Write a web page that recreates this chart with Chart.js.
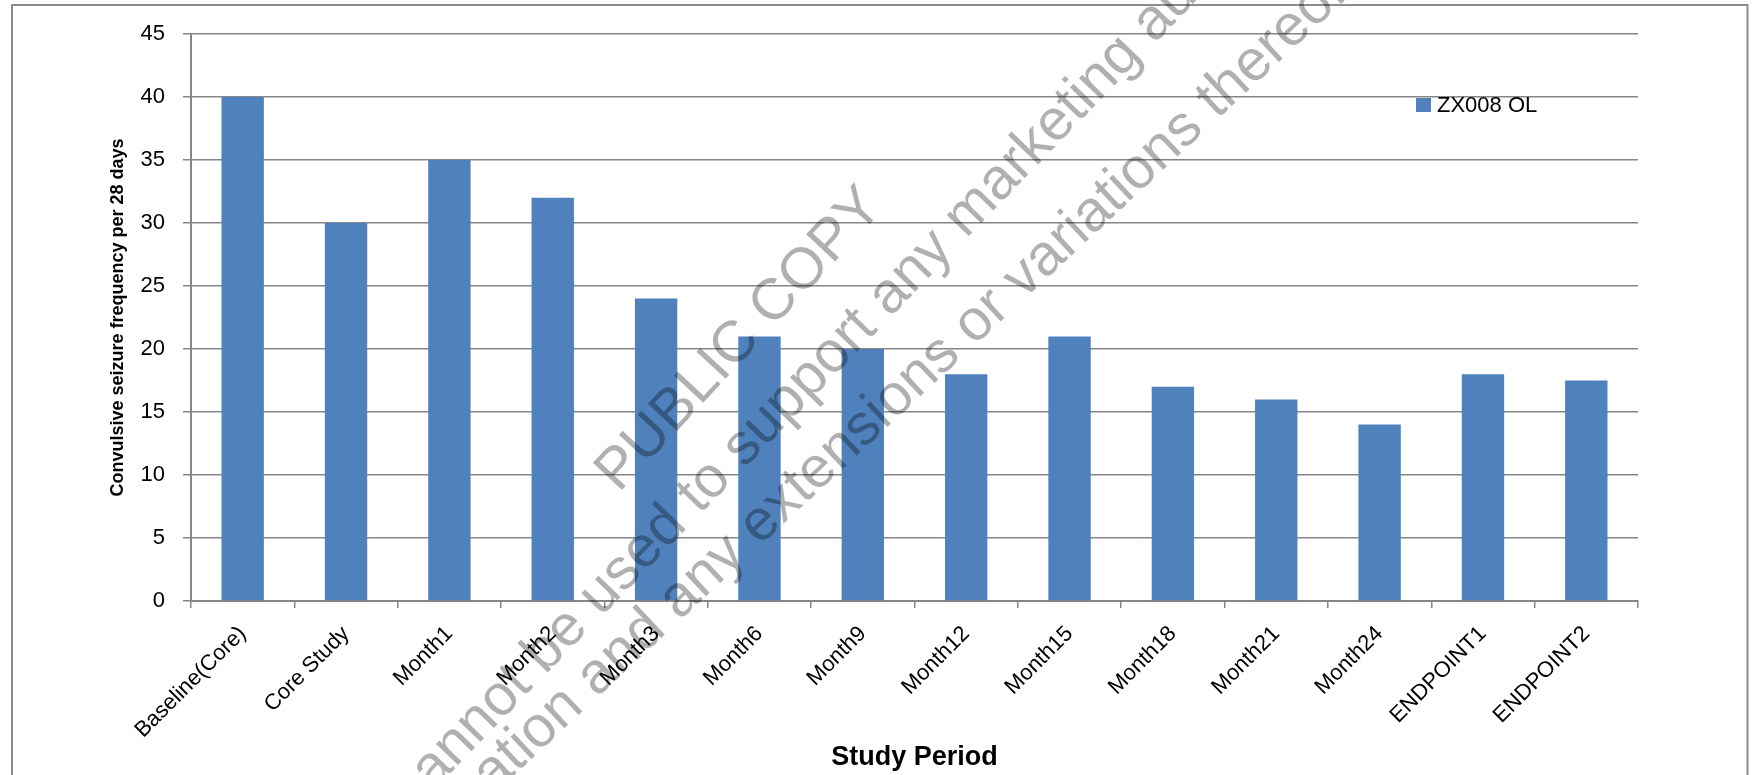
<!DOCTYPE html>
<html>
<head>
<meta charset="utf-8">
<script src="https://cdn.jsdelivr.net/npm/chart.js@4.4.1/dist/chart.umd.min.js"></script>
<style>
  html, body { margin: 0; padding: 0; background: #fff; }
</style>
</head>
<body>
<canvas id="myChart" width="1752" height="775"></canvas>
<script>
"use strict";

const studyPeriods = [
  "Baseline(Core)", "Core Study", "Month1", "Month2", "Month3", "Month6",
  "Month9", "Month12", "Month15", "Month18", "Month21", "Month24",
  "ENDPOINT1", "ENDPOINT2",
];
const seizureFrequency = [40, 30, 35, 32, 24, 21, 20, 18, 21, 17, 16, 14, 18, 17.5];
const seriesName = "ZX008 OL";
const yMin = 0;
const yMax = 45;
const yStep = 5;

const watermarkLines = [
  "PUBLIC COPY",
  "This document cannot be used to support any marketing authorisation",
  "application and any extensions or variations thereof.",
];

const FONT = "'Liberation Sans', Arial, sans-serif";
const GRID = "#868686";
const BAR = "#4F81BD";

/*-----frame round the whole chart------------------------------*/
const framePlugin = {
  id: "frame",
  beforeDraw(chart) {
    const ctx = chart.ctx;
    ctx.save();
    ctx.fillStyle = "#fff";
    ctx.fillRect(0, 0, chart.width, chart.height);
    ctx.strokeStyle = "#8c8c8c";
    ctx.lineWidth = 2;
    ctx.strokeRect(12, 5, 1735.5, 820);
    ctx.restore();
  },
};

/*-----legend sits inside the plot, top right-------------------*/
const insideLegend = {
  id: "insideLegend",
  afterDatasetsDraw(chart) {
    const ctx = chart.ctx;
    const ds = chart.data.datasets[0];
    ctx.save();
    ctx.fillStyle = ds.backgroundColor;
    ctx.fillRect(1416, 98, 15, 14);
    ctx.fillStyle = "#000";
    ctx.font = "22px " + FONT;
    ctx.textBaseline = "middle";
    ctx.textAlign = "left";
    ctx.fillText(ds.label, 1437, 106);
    ctx.restore();
  },
};

/*-----grey diagonal watermark over everything------------------*/
function drawAnchored(ctx, text, anchor, ax, ay, angle) {
  const i = text.indexOf(anchor);
  const off = ctx.measureText(text.slice(0, i)).width + ctx.measureText(anchor).width / 2;
  ctx.save();
  ctx.translate(ax, ay);
  ctx.rotate(angle);
  ctx.fillText(text, -off, 0);
  ctx.restore();
}

const watermarkPlugin = {
  id: "watermark",
  afterDraw(chart) {
    const ctx = chart.ctx;
    ctx.save();
    ctx.fillStyle = "rgba(0, 0, 0, 0.31)";
    ctx.font = "58px " + FONT;
    ctx.textBaseline = "middle";
    ctx.textAlign = "left";
    drawAnchored(ctx, watermarkLines[0], "PUBLIC COPY", 740, 340, -47 * Math.PI / 180);
    drawAnchored(ctx, watermarkLines[1], "support", 800, 388, -46 * Math.PI / 180);
    drawAnchored(ctx, watermarkLines[2], "extensions", 850, 440, -43 * Math.PI / 180);
    ctx.restore();
  },
};

const data = {
  labels: studyPeriods,
  datasets: [
    {
      label: seriesName,
      data: seizureFrequency,
      backgroundColor: BAR,
      borderWidth: 0,
      barPercentage: 0.41,
      categoryPercentage: 1,
    },
  ],
};

const config = {
  type: "bar",
  data: data,
  options: {
    responsive: false,
    animation: false,
    devicePixelRatio: 1,
    layout: {
      padding: { left: 0, right: 114, top: 34, bottom: 0 },
    },
    plugins: {
      legend: { display: false },
      title: { display: false },
      tooltip: { enabled: false },
    },
    scales: {
      x: {
        afterFit(scale) {
          scale.height = 174;
        },
        grid: {
          drawOnChartArea: false,
          drawTicks: true,
          tickLength: 7,
          color: GRID,
          lineWidth: 1.5,
        },
        border: { display: true, color: GRID, width: 2 },
        ticks: {
          color: "#000",
          font: { family: FONT, size: 22 },
          minRotation: 45,
          maxRotation: 45,
          autoSkip: false,
          padding: 13,
        },
        title: {
          display: true,
          text: "Study Period",
          color: "#000",
          font: { family: FONT, size: 27, weight: "bold" },
          padding: { top: 0, bottom: 1 },
        },
      },
      y: {
        min: yMin,
        max: yMax,
        afterFit(scale) {
          scale.width = 191;
        },
        grid: {
          color: GRID,
          lineWidth: 1.5,
          drawTicks: true,
          tickLength: 8,
        },
        border: { display: true, color: GRID, width: 2 },
        ticks: {
          stepSize: yStep,
          color: "#000",
          font: { family: FONT, size: 22 },
          padding: 18,
        },
        title: {
          display: true,
          text: "Convulsive seizure frequency per 28 days",
          color: "#000",
          font: { family: FONT, size: 18, weight: "bold" },
          padding: { top: 107, bottom: 0 },
        },
      },
    },
  },
  plugins: [framePlugin, insideLegend, watermarkPlugin],
};

new Chart(document.getElementById("myChart"), config);
</script>
</body>
</html>
